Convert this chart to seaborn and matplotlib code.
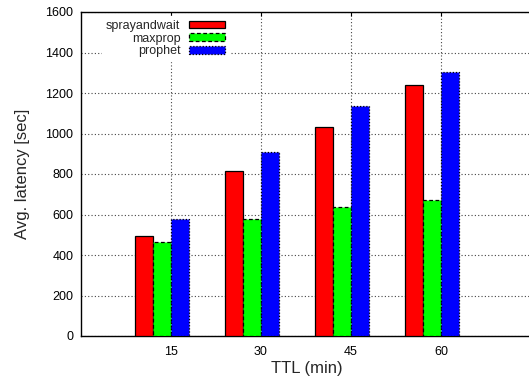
import matplotlib
matplotlib.use("Agg")
import matplotlib.pyplot as plt
import seaborn as sns
import pandas as pd
from matplotlib.patches import Patch

ttl = ["15", "30", "45", "60"]
series = ["sprayandwait", "maxprop", "prophet"]
sprayandwait = [494, 813, 1031, 1241]
maxprop = [466, 578, 639, 670]
prophet = [578, 909, 1136, 1305]
yticks = [0, 200, 400, 600, 800, 1000, 1200, 1400, 1600]

colors = ["#ff0000", "#00ff00", "#0000ff"]
edge_styles = ["-", (0, (3, 2)), (0, (1, 1.5))]

rows = []
for name, vals in zip(series, [sprayandwait, maxprop, prophet]):
    for t, v in zip(ttl, vals):
        rows.append({"TTL": t, "series": name, "latency": v})
df = pd.DataFrame(rows)

sns.set_theme(style="white")
plt.rcParams["font.family"] = ["Liberation Sans", "DejaVu Sans"]

fig = plt.figure(figsize=(5.29, 3.81), dpi=100)
ax = fig.add_axes([81 / 529, 45 / 381, 452 / 529, 324 / 381])

sns.barplot(data=df, x="TTL", y="latency", hue="series", order=ttl,
            hue_order=series, palette=colors, width=0.6, dodge=True,
            saturation=1, ax=ax, legend=False, zorder=3)

for cont, ls in zip(ax.containers, edge_styles):
    for bar in cont:
        bar.set_edgecolor("black")
        bar.set_linewidth(0.9)
        bar.set_linestyle(ls)

ax.set_xlim(-0.9, -0.9 + 452 / 90)
ax.set_ylim(0, 1600)
ax.set_xticks([i + 0.1 for i in range(len(ttl))])
ax.set_xticklabels(ttl)
ax.set_yticks(yticks)
ax.set_yticklabels([str(v) for v in yticks])

ax.grid(True, linestyle=(0, (1, 2)), color="#444444", linewidth=0.8, zorder=0)
ax.set_axisbelow(True)

for name, s in ax.spines.items():
    s.set_color("black")
    s.set_linewidth(1.0)
ax.spines["right"].set_visible(False)

ax.tick_params(axis="both", direction="in", length=3, width=0.8,
               top=True, right=False, labelsize=9, colors="black")
ax.tick_params(axis="y", pad=5.5)
ax.tick_params(axis="x", pad=7.5)

ax.set_xlabel("TTL (min)", fontsize=12, labelpad=2)
ax.set_ylabel("Avg. latency [sec]", fontsize=12, labelpad=11)

handles = [Patch(facecolor=c, edgecolor="black", linewidth=0.9, linestyle=ls)
           for c, ls in zip(colors, edge_styles)]
leg = ax.legend(handles, series, loc="upper left", bbox_to_anchor=(0.047, 0.987),
                borderaxespad=0, markerfirst=False, fontsize=9, frameon=True,
                handlelength=2.9, handleheight=0.55, handletextpad=0.7,
                labelspacing=0.05, borderpad=0.3)
leg.get_frame().set_facecolor("white")
leg.get_frame().set_edgecolor("white")
leg.get_frame().set_alpha(1)
leg.set_zorder(5)
for t in leg.get_texts():
    t.set_ha("right")

fig.savefig("out.png", dpi=100, facecolor="white")
